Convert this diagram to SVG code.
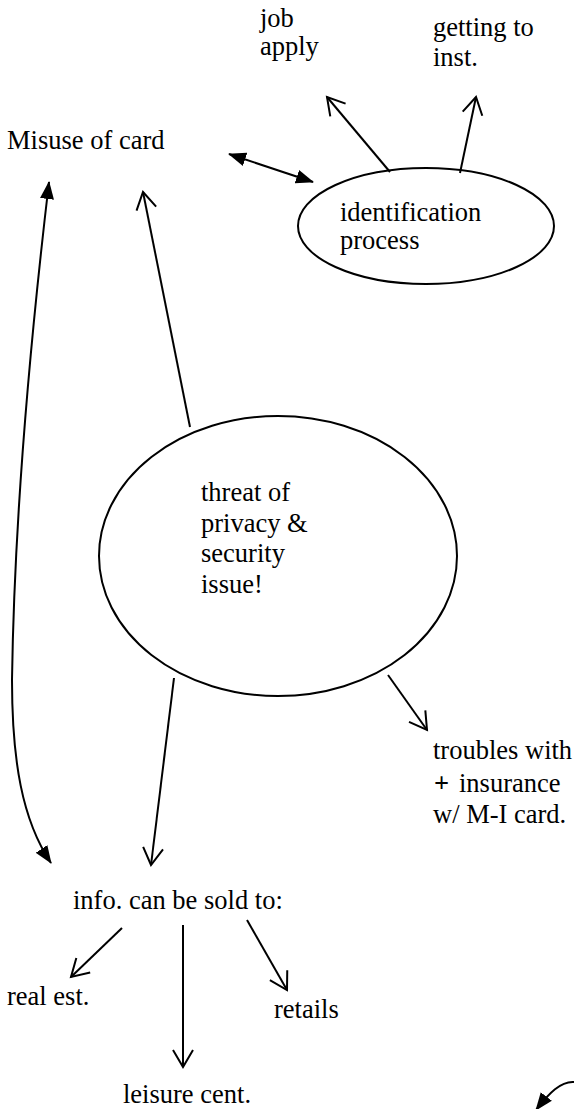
<svg xmlns="http://www.w3.org/2000/svg" width="574" height="1109" viewBox="0 0 574 1109">
<style>
.t{font-family:'Liberation Serif','Times New Roman',serif;font-size:26.5px;fill:#000}
.shape{fill:none;stroke:#000;stroke-width:2}
.edge{fill:none;stroke:#000;stroke-width:2}
</style>
<defs>
<marker id="open" markerUnits="userSpaceOnUse" markerWidth="22" markerHeight="24" viewBox="0 0 22 24" refX="19" refY="12" orient="auto">
<path d="M2,2 L19,12 L2,22" fill="none" stroke="#000" stroke-width="2"/>
</marker>
<marker id="solid" markerUnits="userSpaceOnUse" markerWidth="18" markerHeight="16" viewBox="0 0 18 16" refX="17" refY="8" orient="auto-start-reverse">
<path d="M0,1 L18,8 L0,15 Z" fill="#000"/>
</marker>
</defs>
<rect width="574" height="1109" fill="#fff"/>
<g id="connectors">
<path class="edge" d="M390,172 L327,97" marker-end="url(#open)"/>
<path class="edge" d="M460,173 L476,97" marker-end="url(#open)"/>
<path class="edge" d="M229,154 L313,182" marker-start="url(#solid)" marker-end="url(#solid)"/>
<path class="edge" d="M49,182 C28,360 14,540 12,680 C12,760 22,820 51,863" marker-start="url(#solid)" marker-end="url(#solid)"/>
<path class="edge" d="M190,427 L143,192" marker-end="url(#open)"/>
<path class="edge" d="M174,678 L151,865" marker-end="url(#open)"/>
<path class="edge" d="M388,675 L427,730" marker-end="url(#open)"/>
<path class="edge" d="M122,928 L71,977" marker-end="url(#open)"/>
<path class="edge" d="M183,925 L183,1067" marker-end="url(#open)"/>
<path class="edge" d="M247,920 L287,990" marker-end="url(#open)"/>
<path class="edge" d="M574,1082 C561,1081 549,1093 536,1110" marker-end="url(#solid)"/>
</g>
<g id="job-apply" class="t"><text x="260" y="27">job</text><text x="260" y="55">apply</text></g>
<g id="getting-to-inst" class="t"><text x="433" y="36">getting to</text><text x="433" y="66">inst.</text></g>
<g id="misuse-of-card" class="t"><text x="7" y="149">Misuse of card</text></g>
<g id="identification-process">
<ellipse class="shape" cx="426" cy="226" rx="128" ry="58"/>
<g class="t"><text x="340" y="221">identification</text><text x="340" y="249">process</text></g>
</g>
<g id="threat">
<ellipse class="shape" cx="278" cy="556" rx="179" ry="140"/>
<g class="t"><text x="201" y="501">threat of</text><text x="201" y="532">privacy &amp;</text><text x="201" y="562">security</text><text x="201" y="593">issue!</text></g>
</g>
<g id="troubles" class="t"><text x="433" y="759">troubles with</text><text y="792"><tspan x="434" font-weight="bold">+</tspan><tspan x="459">insurance</tspan></text><text x="433" y="823">w/ M-I card.</text></g>
<g id="info-sold" class="t"><text x="73" y="909">info. can be sold to:</text></g>
<g id="real-est" class="t"><text x="7" y="1005">real est.</text></g>
<g id="retails" class="t"><text x="274" y="1018">retails</text></g>
<g id="leisure-cent" class="t"><text x="123" y="1103">leisure cent.</text></g>
</svg>
